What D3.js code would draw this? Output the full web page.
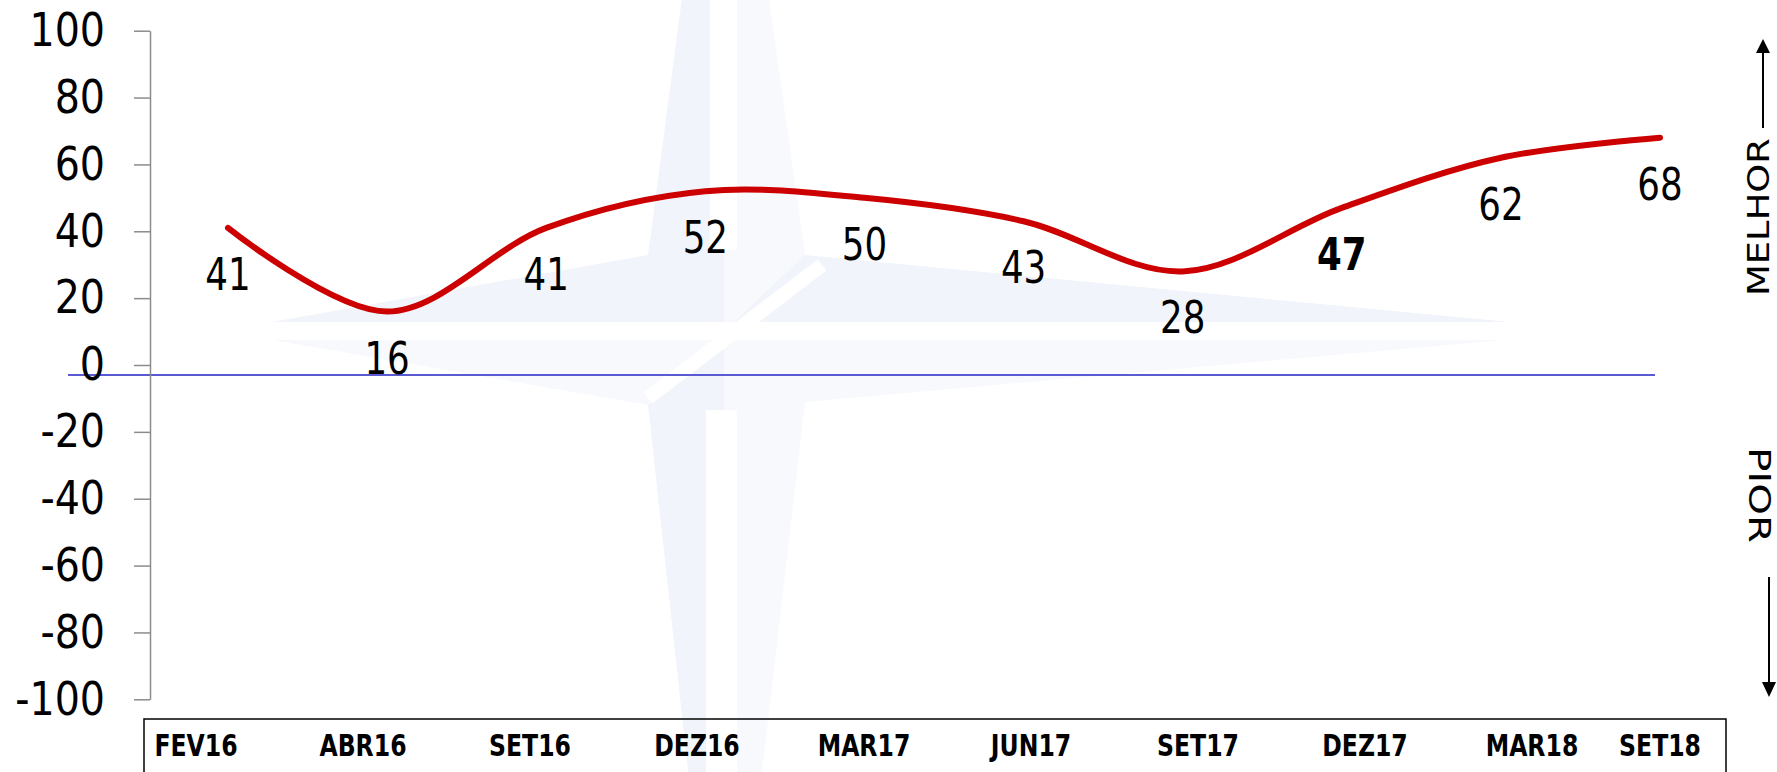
<!DOCTYPE html>
<html lang="pt">
<head>
  <meta charset="UTF-8">
  <title>Indicador</title>
  <style>
    body { margin: 0; background: #fff; }
    svg { display: block; }
    text { font-family: "DejaVu Sans", Tahoma, sans-serif; }
  </style>
  <script src="https://d3js.org/d3.v7.min.js"></script>
  <script>
    var periods = ["FEV16", "ABR16", "SET16", "DEZ16", "MAR17", "JUN17", "SET17", "DEZ17", "MAR18", "SET18"];
    var values = [41, 16, 41, 52, 50, 43, 28, 47, 62, 68];
    var highlight = ["DEZ17"];
    var yTicks = [-100, -80, -60, -40, -20, 0, 20, 40, 60, 80, 100];
    var refLine = -3;
    var sideLabels = ["MELHOR", "PIOR"];

    // squeeze text horizontally (reference font is narrower than DejaVu)
    function squeeze(sel, k) {
      sel.each(function () {
        var w = this.getComputedTextLength();
        d3.select(this).attr("textLength", w * k).attr("lengthAdjust", "spacingAndGlyphs");
      });
    }

    window.onload = function () {
      var width = 1777, height = 772;

      var svg = d3.select("body").append("svg")
        .attr("width", width)
        .attr("height", height);

      var x = d3.scalePoint().domain(periods).range([228, 1660]);
      var y = d3.scaleLinear().domain([-100, 100]).range([699.3, 30.7]);

      // label strip (a separate box under the plot)
      var box = { x: 144, y: 719, w: 1582 };
      var xLab = d3.scaleLinear().domain([0, periods.length - 1]).range([196, 1699]);

      // faint compass star in the background
      var cx = 724, cy = 331;
      var top = [cx, -320], bottom = [cx, 1100], left = [221, cy], right = [1604, cy];
      var ul = [648, 255], ur = [805, 255], lr = [805, 402], ll = [648, 405], c = [cx, cy];
      var darkTone = "#f1f4fa", lightTone = "#f7f9fd";
      var halves = [
        [[top, ul, c], darkTone], [[top, c, ur], lightTone],
        [[right, ur, c], darkTone], [[right, c, lr], lightTone],
        [[bottom, lr, c], lightTone], [[bottom, c, ll], darkTone],
        [[left, ll, c], lightTone], [[left, c, ul], darkTone]
      ];
      var star = svg.append("g");
      star.selectAll("polygon").data(halves).enter().append("polygon")
        .attr("points", function (d) { return d[0].map(function (p) { return p.join(","); }).join(" "); })
        .attr("fill", function (d) { return d[1]; });
      star.append("rect").attr("x", left[0]).attr("y", cy - 9).attr("width", right[0] - left[0]).attr("height", 18).attr("fill", "#fff");
      star.append("rect").attr("x", 710).attr("y", 0).attr("width", 27).attr("height", 250).attr("fill", "#fff");
      star.append("rect").attr("x", 706).attr("y", 410).attr("width", 31).attr("height", height).attr("fill", "#fff");
      star.append("line").attr("x1", 822).attr("y1", 265).attr("x2", 648).attr("y2", 398)
        .attr("stroke", "#fff").attr("stroke-width", 14);

      // blue reference line
      svg.append("line")
        .attr("x1", 68).attr("x2", 1655)
        .attr("y1", y(refLine)).attr("y2", y(refLine))
        .attr("stroke", "#5a5ad2").attr("stroke-width", 2);

      // y axis
      var yAxis = d3.axisLeft(y).tickValues(yTicks).tickSize(16).tickSizeOuter(0).tickPadding(29)
        .tickFormat(function (d) { return String(d); });
      var gy = svg.append("g").attr("transform", "translate(150,0)").call(yAxis)
        .attr("font-family", "DejaVu Sans, Tahoma, sans-serif").attr("font-size", 46);
      gy.select(".domain").attr("stroke", "#8c8c8c").attr("stroke-width", 1.5);
      gy.selectAll(".tick line").attr("stroke", "#8c8c8c").attr("stroke-width", 1.5);
      gy.selectAll(".tick text").attr("fill", "#000").call(squeeze, 0.86);

      // red line
      var line = d3.line()
        .x(function (d, i) { return x(periods[i]); })
        .y(function (d) { return y(d); })
        .curve(d3.curveCatmullRom);
      svg.append("path").datum(values)
        .attr("d", line)
        .attr("fill", "none")
        .attr("stroke", "#cc0000")
        .attr("stroke-width", 6)
        .attr("stroke-linecap", "round");

      // value labels under the points
      svg.append("g").selectAll("text").data(values).enter().append("text")
        .attr("x", function (d, i) { return x(periods[i]); })
        .attr("y", function (d) { return y(d) + 62; })
        .attr("text-anchor", "middle")
        .attr("font-size", 44)
        .attr("font-weight", function (d, i) { return highlight.indexOf(periods[i]) >= 0 ? "bold" : "normal"; })
        .text(function (d) { return d; })
        .call(squeeze, 0.81);

      // period labels in a box
      svg.append("rect")
        .attr("x", box.x).attr("y", box.y).attr("width", box.w).attr("height", 80)
        .attr("fill", "none").attr("stroke", "#000").attr("stroke-width", 1.5);
      var labs = svg.append("g").selectAll("text").data(periods).enter().append("text")
        .attr("y", 756)
        .attr("text-anchor", "middle")
        .attr("font-size", 31)
        .attr("font-weight", "bold")
        .text(function (d) { return d; })
        .call(squeeze, 0.76);
      // keep each label inside the box
      labs.attr("x", function (d, i) {
        var half = this.getComputedTextLength() / 2;
        return Math.min(xLab(i), box.x + box.w - half - 25);
      });

      // better / worse arrows on the right
      var side = svg.append("g").attr("fill", "#000");
      side.append("text")
        .attr("transform", "translate(1769,217) rotate(-90)")
        .attr("text-anchor", "middle").attr("font-size", 30)
        .attr("textLength", 158).attr("lengthAdjust", "spacingAndGlyphs")
        .text(sideLabels[0]);
      side.append("text")
        .attr("transform", "translate(1749,495) rotate(90)")
        .attr("text-anchor", "middle").attr("font-size", 30)
        .attr("textLength", 96).attr("lengthAdjust", "spacingAndGlyphs")
        .text(sideLabels[1]);
      side.append("line").attr("x1", 1763).attr("x2", 1763).attr("y1", 128).attr("y2", 50)
        .attr("stroke", "#000").attr("stroke-width", 2);
      side.append("path").attr("d", "M1763,39 L1756,53 L1770,53 Z");
      side.append("line").attr("x1", 1769).attr("x2", 1769).attr("y1", 577).attr("y2", 685)
        .attr("stroke", "#000").attr("stroke-width", 2);
      side.append("path").attr("d", "M1769,697 L1762,682 L1776,682 Z");
    };
  </script>
</head>
<body>
</body>
</html>
